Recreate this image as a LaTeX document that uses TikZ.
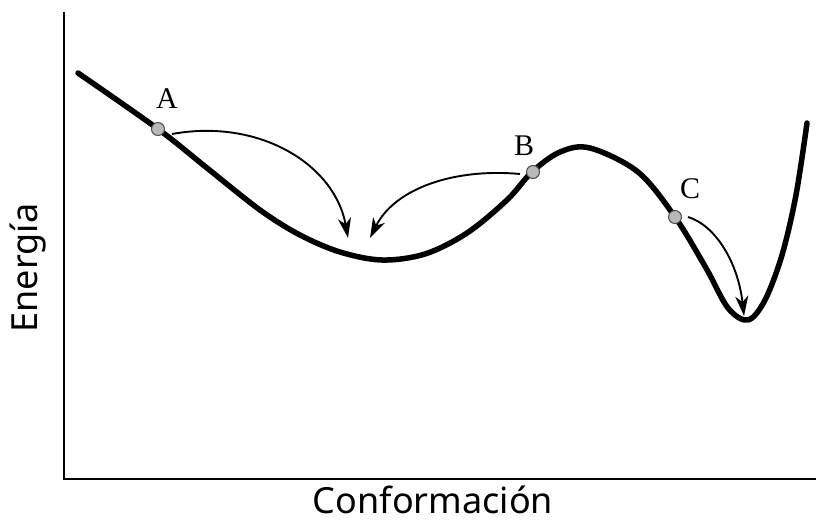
\documentclass[tikz,border=0pt]{standalone}
\usepackage{fontspec}
\setmainfont{Noto Sans}
\newfontfamily\serifl{Liberation Serif}
\usetikzlibrary{arrows.meta}
\begin{document}
\begin{tikzpicture}[x=1pt,y=-1pt,
  axis/.style={line width=2pt,black},
  curve/.style={line width=5.5pt,black,line cap=round,line join=round},
  move/.style={line width=1.9pt,black,-{Stealth[length=20pt,width=13pt,inset=6pt]}},
  state/.style={circle,inner sep=0pt,minimum size=13pt,fill=gray!55,draw=gray!60!black,line width=1pt},
  lbl/.style={font=\serifl\fontsize{30}{30}\selectfont,inner sep=0pt},
  axlbl/.style={font=\fontsize{36}{36}\selectfont,inner sep=0pt}]
\useasboundingbox (0,0) rectangle (816,524);
\coordinate (o) at (64,479);
\coordinate (yt) at (64,12);
\coordinate (xr) at (816,479);
\draw[axis] (yt) -- (o) -- (xr);
\draw[curve] plot[smooth,tension=0.55] coordinates {
 (78,73) (158,129) (207,168) (260,210) (300,235) (340,252) (382,260)
 (425,254) (467,233) (507,200) (532,172) (560,152) (590,148) (638,172)
 (675,217) (706,268) (728,308) (748,320) (765,300) (782,255) (796,195) (807,123)};
\node[state] (A) at (158,129) {};
\node[state] (B) at (533,172) {};
\node[state] (C) at (675,217) {};
\node[lbl] (la) at (167,99) {A};
\node[lbl] (lb) at (524,146) {B};
\node[lbl] (lc) at (690,189) {C};
\coordinate (ta) at (348,238);
\coordinate (tb) at (370,238);
\coordinate (tc) at (744,316);
\draw[move] ([xshift=14pt,yshift=-5pt]A.center) .. controls (260,118) and (335,165) .. (ta);
\draw[move] ([xshift=-13pt,yshift=-2pt]B.center) .. controls (455,168) and (395,188) .. (tb);
\draw[move] ([xshift=13pt]C.center) .. controls (715,225) and (738,262) .. (tc);
\node[axlbl,rotate=90] (ey) at (28,268) {Energía};
\node[axlbl] (ex) at (433,500) {Conformación};
\end{tikzpicture}
\end{document}
